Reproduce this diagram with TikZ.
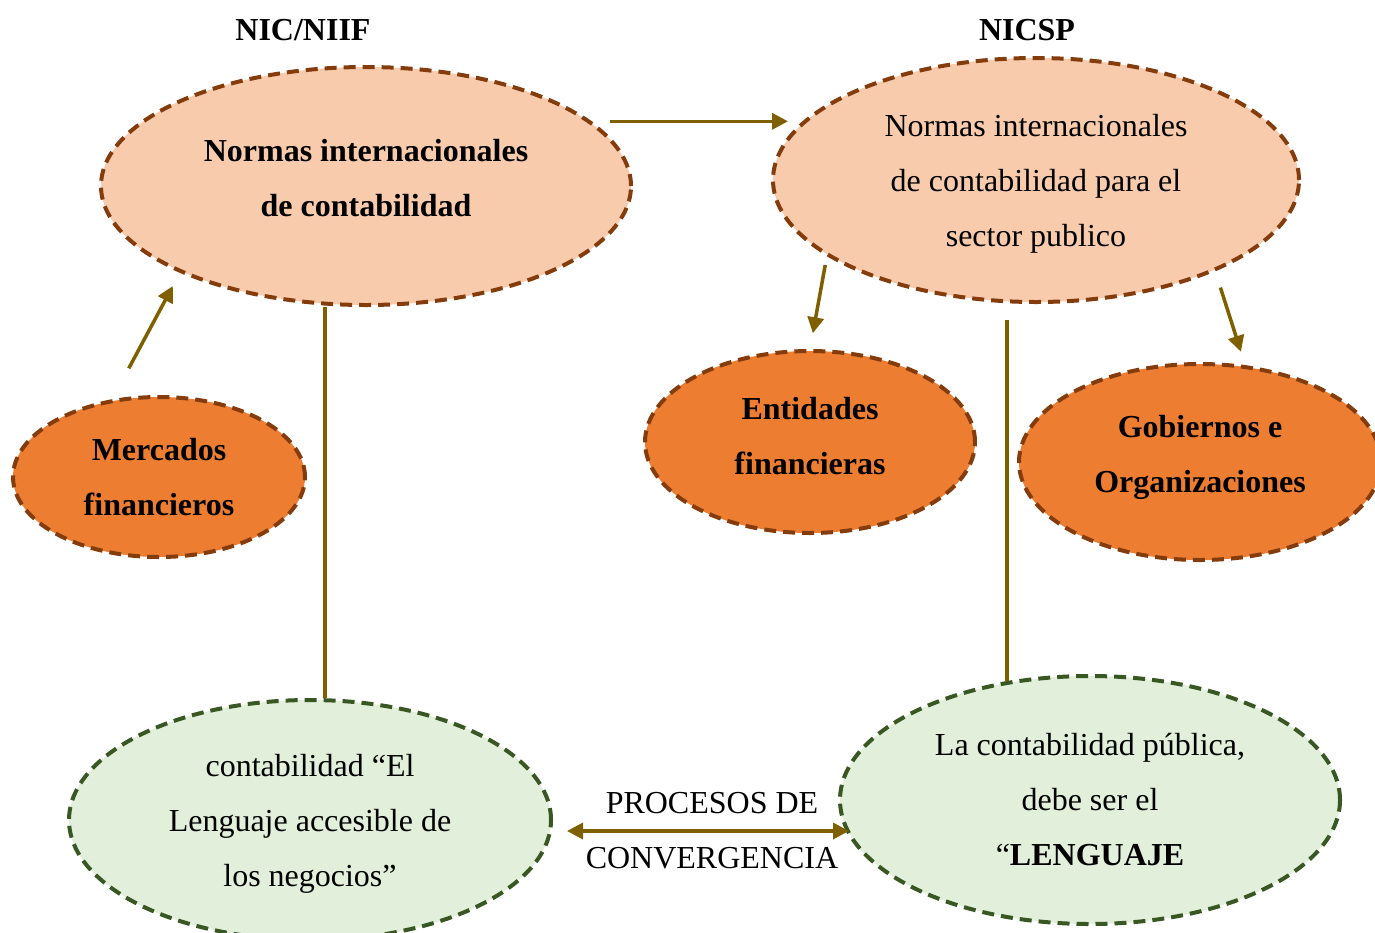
\documentclass[tikz,border=0pt]{standalone}
\usepackage{fontspec}
\setmainfont{Liberation Serif}
\usetikzlibrary{shapes.geometric,arrows.meta,calc}
\definecolor{durazno}{HTML}{F8CBAD}
\definecolor{naranja}{HTML}{ED7D31}
\definecolor{cafe}{HTML}{843C0C}
\definecolor{verdeclaro}{HTML}{E2EFDA}
\definecolor{verdeosc}{HTML}{385723}
\definecolor{oliva}{HTML}{7F6000}
\begin{document}
\begin{tikzpicture}
        [
            x=1pt, y=-1pt,
            every node/.style={font=\fontsize{32}{55}\selectfont, align=center},
            negrita/.style={font=\fontsize{32}{55}\selectfont\bfseries},
            elipse/.style={ellipse, inner sep=0pt, line width=4pt, dash pattern=on 12pt off 7pt},
            norma/.style={elipse, draw=cafe, fill=durazno},
            sector/.style={elipse, negrita, draw=cafe, fill=naranja},
            lengua/.style={elipse, draw=verdeosc, fill=verdeclaro},
            flecha/.style={draw=oliva, line width=3.5pt, -{Triangle[length=16pt,width=16pt]}},
            dflecha/.style={draw=oliva, line width=3.5pt, {Triangle[length=16pt,width=16pt]}-{Triangle[length=16pt,width=16pt]}},
            linea/.style={draw=oliva, line width=3.5pt},
        ]
        \useasboundingbox (0,0) rectangle (1375,932);
        % titulos
        \node[negrita] (nicniif) at (303,30) {NIC/NIIF};
        \node[negrita] (nicsptit) at (1027,30) {NICSP};
        % normas
        \node[norma, negrita, text depth=16pt, minimum width=530pt, minimum height=238pt] (normas) at (366,186)
            {Normas internacionales\\de contabilidad};
        \node[norma, text depth=0pt, minimum width=526pt, minimum height=244pt] (nicsp) at (1036,180)
            {Normas internacionales\\de contabilidad para el\\sector publico};
        % usuarios
        \node[sector, minimum width=292pt, minimum height=160pt] (mercados) at (159,477) {Mercados\\financieros};
        \node[sector, text depth=12pt, minimum width=330pt, minimum height=182pt] (entidades) at (810,442) {Entidades\\financieras};
        \node[sector, text depth=17pt, minimum width=362pt, minimum height=196pt] (gobiernos) at (1200,462) {Gobiernos e\\Organizaciones};
        % lenguaje
        \node[lengua, text depth=0pt, minimum width=482pt, minimum height=240pt] (lenguaje) at (310,820)
            {contabilidad “El\\Lenguaje accesible de\\los negocios”};
        \node[lengua, minimum width=500pt, minimum height=248pt] (publica) at (1090,800)
            {La contabilidad pública,\\debe ser el\\“\textbf{LENGUAJE}};
        \node (procesos) at (712,831) {PROCESOS DE\\CONVERGENCIA};
        % conectores
        \draw[flecha, shorten <=18pt] (normas.16) -- ([xshift=17pt]normas.16 -| nicsp.west);
        \draw[flecha, shorten <=35pt, shorten >=15pt] (mercados.121) -- (normas.205);
        \draw[flecha, shorten <=9pt, shorten >=16pt] (nicsp.200) -- (entidades.north);
        \draw[flecha, shorten <=17pt, shorten >=14pt] (nicsp.333) -- (gobiernos.65);
        \draw[linea] (lenguaje.83) -- (lenguaje.83 |- normas.south);
        \draw[linea, shorten >=16pt] (publica.125) -- (publica.125 |- nicsp.south);
        \draw[dflecha] ($(lenguaje.east)+(14,11)$) -- ($(publica.west)+(11,31)$);
    \end{tikzpicture}
\end{document}
